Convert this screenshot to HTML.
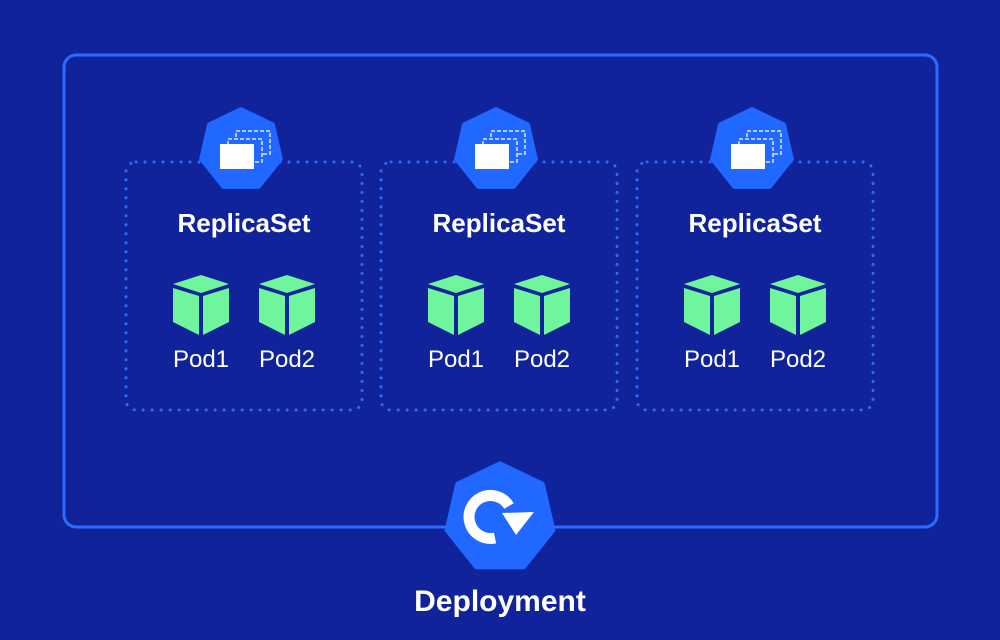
<!DOCTYPE html>
<html><head><meta charset="utf-8"><style>
html,body{margin:0;padding:0;background:#10239a;}
svg{display:block}
text{font-family:"Liberation Sans",sans-serif;fill:#fff}
</style></head><body>
<svg width="1000" height="640" viewBox="0 0 1000 640" xmlns="http://www.w3.org/2000/svg">
<defs>
<polygon id="hep" points="0,-1 0.7818,-0.6235 0.9749,0.2225 0.4339,0.9010 -0.4339,0.9010 -0.9749,0.2225 -0.7818,-0.6235"/>
<g id="cube">
<polygon points="0,0 28,9 0,18 -28,9" fill="#6ff59c"/>
<polygon points="-28,13 -2,21 -2,60 -28,47" fill="#6ff59c"/>
<polygon points="2,21 28,13 28,47 2,60" fill="#6ff59c"/>
</g>
<g id="rs">
<rect x="0" y="0" width="236" height="248" rx="10" fill="none" stroke="#2a6cff" stroke-width="3" stroke-dasharray="0.1 8.9" stroke-linecap="round"/>
<g transform="translate(115,-12) scale(40)"><use href="#hep" fill="#2068ff" stroke="#2068ff" stroke-width="0.14" stroke-linejoin="round"/></g>
<rect x="110" y="-31" width="34" height="23" fill="none" stroke="#dfe8ff" stroke-width="1.5" stroke-dasharray="4 2"/>
<rect x="102" y="-23" width="34" height="23" fill="#2068ff" stroke="#dfe8ff" stroke-width="1.5" stroke-dasharray="4 2"/>
<rect x="94" y="-18" width="34" height="25" fill="#fff"/>
<text x="118" y="70" font-size="26" font-weight="bold" text-anchor="middle">ReplicaSet</text>
<use href="#cube" x="75" y="113"/>
<use href="#cube" x="161" y="113"/>
<text x="75" y="205" font-size="24" text-anchor="middle">Pod1</text>
<text x="161" y="205" font-size="24" text-anchor="middle">Pod2</text>
</g>
</defs>
<rect x="64" y="55" width="873" height="472" rx="12" fill="none" stroke="#2a6cff" stroke-width="3"/>
<use href="#rs" x="126" y="162"/>
<use href="#rs" x="381" y="162"/>
<use href="#rs" x="637" y="162"/>
<g transform="translate(500,518) scale(54)"><use href="#hep" fill="#2068ff" stroke="#2068ff" stroke-width="0.1" stroke-linejoin="round"/></g>
<path d="M 509 506 A 21.5 21.5 0 1 0 495 538" fill="none" stroke="#fff" stroke-width="11"/>
<polygon points="502,513 534,512 516,535" fill="#fff"/>
<text x="500" y="611" font-size="30" font-weight="bold" text-anchor="middle">Deployment</text>
</svg>
</body></html>
